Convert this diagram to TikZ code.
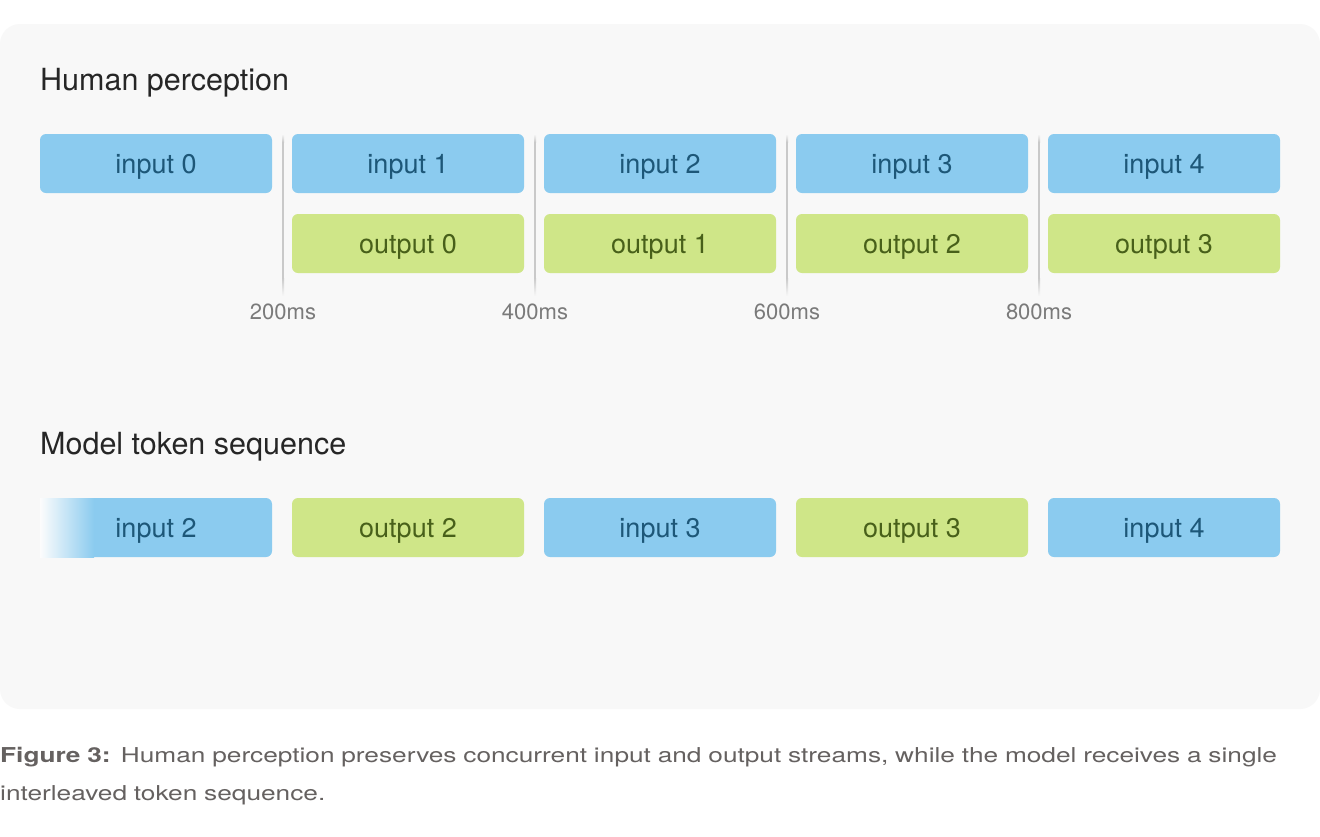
\documentclass[tikz,border=0pt]{standalone}
\usepackage{fontspec}
\setmainfont{TeX Gyre Heros}
\newfontfamily\capfont[FakeStretch=1.28]{TeX Gyre Heros}
\usetikzlibrary{positioning,calc}

\definecolor{panelbg}{HTML}{F8F8F8}
\definecolor{inblue}{HTML}{8BCBEF}
\definecolor{intext}{HTML}{1D5778}
\definecolor{outgreen}{HTML}{CFE688}
\definecolor{outtext}{HTML}{48601A}
\definecolor{ticktext}{HTML}{7A7A7A}
\definecolor{tickline}{HTML}{C9C9C9}
\definecolor{captext}{HTML}{656160}

\tikzset{
  block/.style={rounded corners=6pt, inner sep=0pt, outer sep=0pt,
    minimum width=232pt, minimum height=59pt, text height=19.5pt,
    text depth=0pt, font=\fontsize{27}{30}\selectfont},
  inblock/.style={block, fill=inblue, text=intext},
  outblock/.style={block, fill=outgreen, text=outtext},
  heading/.style={anchor=base west, inner sep=0pt, text=black!85,
    font=\fontsize{30.5}{34}\selectfont},
  ticklabel/.style={anchor=base, inner sep=0pt, text=ticktext,
    font=\fontsize{22}{26}\selectfont},
}

\begin{document}
\begin{tikzpicture}[x=1pt, y=-1pt, node distance=20pt]
	\useasboundingbox (0,0) rectangle (1320,836);
	\fill[white] (0,0) rectangle (1320,836);
	\fill[panelbg, rounded corners=20pt] (0,24) rectangle (1320,709);

	% human perception
	\node[heading] (hhead) at (40,90) {Human perception};
	\node[inblock, anchor=north west] (in0) at (40,134) {input 0};
	\node[inblock, right=of in0] (in1) {input 1};
	\node[inblock, right=of in1] (in2) {input 2};
	\node[inblock, right=of in2] (in3) {input 3};
	\node[inblock, right=of in3] (in4) {input 4};
	\node[outblock, below=21pt of in1] (out0) {output 0};
	\node[outblock, below=21pt of in2] (out1) {output 1};
	\node[outblock, below=21pt of in3] (out2) {output 2};
	\node[outblock, below=21pt of in4] (out3) {output 3};

	% time marks
	\foreach \a/\b/\t in {in0/in1/200ms, in1/in2/400ms, in2/in3/600ms, in3/in4/800ms}{
		\coordinate (top-\t) at ($(\a.north east)!0.5!(\b.north west)+(1,0)$);
		\shade[top color=panelbg, bottom color=tickline]
			([xshift=-1pt]top-\t) rectangle ([xshift=1pt,yshift=-8pt]top-\t);
		\fill[tickline] ([xshift=-1pt,yshift=-8pt]top-\t) rectangle ([xshift=1pt,yshift=-144pt]top-\t);
		\shade[top color=tickline, bottom color=panelbg]
			([xshift=-1pt,yshift=-144pt]top-\t) rectangle ([xshift=1pt,yshift=-162pt]top-\t);
		\node[ticklabel] (lbl-\t) at ([yshift=-185pt]top-\t) {\t};
	}

	% model tokens
	\node[heading] (mhead) at (40,454) {Model token sequence};
	\node[inblock, anchor=north west] (tok0) at (40,498) {};
	\shade[left color=panelbg!40!white, right color=inblue]
		(tok0.north west) rectangle ([xshift=54pt]tok0.south west);
	\node[inblock, anchor=north west, fill=none] (tok0txt) at (40,498) {input 2};
	\node[outblock, right=of tok0] (tok1) {output 2};
	\node[inblock, right=of tok1] (tok2) {input 3};
	\node[outblock, right=of tok2] (tok3) {output 3};
	\node[inblock, right=of tok3] (tok4) {input 4};

	% caption
	\node[anchor=north west, inner sep=0pt, text width=1318pt, text=captext,
		align=left, font=\capfont\fontsize{20.5}{38}\selectfont] (cap) at (0,747)
		{\textbf{Figure 3:} Human perception preserves concurrent input and output streams, while the model receives a single\\interleaved token sequence.};
\end{tikzpicture}
\end{document}
